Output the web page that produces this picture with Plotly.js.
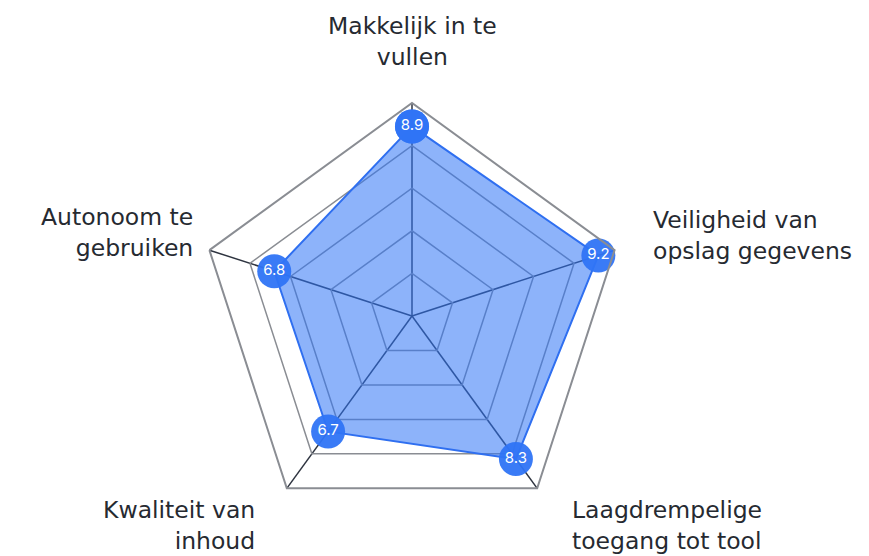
<!DOCTYPE html>
<html>
<head>
<meta charset="utf-8">
<script src="https://cdn.plot.ly/plotly-3.0.1.min.js"></script>
<style>html,body{margin:0;padding:0;background:#fff;}#chart{width:869px;height:556px;}</style>
</head>
<body>
<div id="chart"></div>
<script>
const categories = [
  "Makkelijk in te<br>vullen",
  "Veiligheid van<br>opslag gegevens",
  "Laagdrempelige<br>toegang tot tool",
  "Kwaliteit van<br>inhoud",
  "Autonoom te<br>gebruiken"
];
const scores = [8.9, 9.2, 8.3, 6.7, 6.8];
const scoreLabels = ["8.9", "9.2", "8.3", "6.7", "6.8"];

const theta = categories.concat([categories[0]]);
const r = scores.concat([scores[0]]);
const txt = scoreLabels.concat([""]);

const W = 869, H = 556;
// label placement (pixels) for each category: [x, y-center, anchor]
const labelPos = [
  [412, 42, "center"],
  [651, 235, "left"],
  [570, 525, "left"],
  [257, 525, "right"],
  [195, 232, "right"]
];

const annotations = categories.map((c, i) => ({
  text: c,
  xref: "paper", yref: "paper",
  x: labelPos[i][0] / W,
  y: 1 - labelPos[i][1] / H,
  xanchor: labelPos[i][2],
  yanchor: "middle",
  align: labelPos[i][2],
  showarrow: false,
  font: {family: "DejaVu Sans, sans-serif", size: 23.5, color: "#262a31"}
}));

const trace = {
  type: "scatterpolar",
  r: r,
  theta: theta,
  mode: "lines+markers+text",
  fill: "toself",
  fillcolor: "rgba(47,116,245,0.55)",
  line: {color: "#2f6ff0", width: 2},
  marker: {size: 34, color: "#2f74f5", opacity: 0.95, line: {width: 0}},
  text: txt,
  textposition: "middle center",
  textfont: {family: "Inter, sans-serif", size: 15, color: "#ffffff"},
  hoverinfo: "skip",
  cliponaxis: false
};

const layout = {
  width: W,
  height: H,
  margin: {l: 0, r: 0, t: 0, b: 0},
  paper_bgcolor: "#ffffff",
  showlegend: false,
  font: {family: "Inter, sans-serif", color: "#2b2f36"},
  annotations: annotations,
  polar: {
    domain: {x: [199/W, 625/W], y: [27/H, 453/H]},
    gridshape: "linear",
    bgcolor: "rgba(0,0,0,0)",
    radialaxis: {
      range: [0, 10],
      dtick: 2,
      showticklabels: false,
      ticks: "",
      showline: false,
      gridcolor: "#8a8d93",
      gridwidth: 1.5
    },
    angularaxis: {
      direction: "clockwise",
      rotation: 90,
      linecolor: "#8a8d93",
      linewidth: 2,
      gridcolor: "#2e3440",
      gridwidth: 1.5,
      ticks: "",
      showticklabels: false
    }
  }
};

Plotly.newPlot("chart", [trace], layout, {displayModeBar: false, staticPlot: true});
</script>
</body>
</html>
